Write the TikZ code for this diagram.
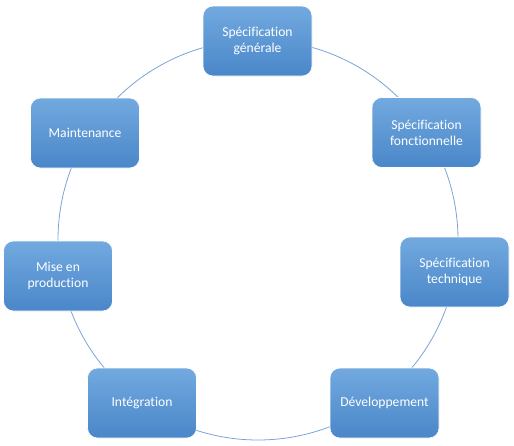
\documentclass[tikz,border=0pt]{standalone}
\usepackage{fontspec}
\setmainfont{Carlito}[Ligatures=NoCommon]
\definecolor{boxtop}{HTML}{72A9DF}
\definecolor{boxbot}{HTML}{4A87C9}
\definecolor{ring}{HTML}{7BA4D6}
\tikzset{
  stepbox/.style={draw=white, line width=0.6pt, rounded corners=10pt,
    minimum width=109pt, minimum height=70pt, inner sep=2pt,
    top color=boxtop, bottom color=boxbot, text=white, align=center,
    font=\fontsize{13.6pt}{16pt}\selectfont},
  ringline/.style={draw=ring, line width=0.8pt}
}
\begin{document}
\begin{tikzpicture}[x=1pt,y=-1pt]
\useasboundingbox (0,0) rectangle (514,445);
\coordinate (c) at (258,240);
\draw[ringline] (c) circle[radius=200pt];
\node[stepbox] (n1) at (257.5,41) {Spécification\\générale};
\node[stepbox] (n2) at (426.5,132.5) {Spécification\\fonctionnelle};
\node[stepbox] (n3) at (454.5,272) {Spécification\\technique};
\node[stepbox] (n4) at (384.5,403) {Développement};
\node[stepbox] (n5) at (142,403) {Intégration};
\node[stepbox] (n6) at (58,276) {Mise en\\production};
\node[stepbox] (n7) at (85,133) {Maintenance};
\end{tikzpicture}
\end{document}
